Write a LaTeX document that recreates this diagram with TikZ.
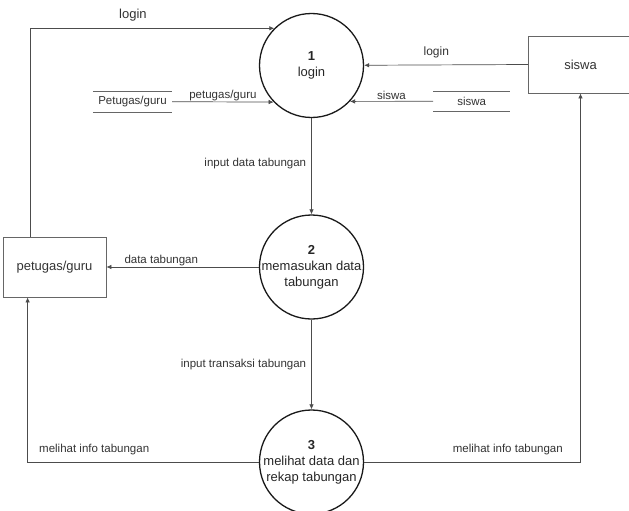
\documentclass[tikz,border=0pt]{standalone}
\usepackage{fontspec}
\setmainfont{Liberation Sans}
\usetikzlibrary{arrows.meta}

\begin{document}
\begin{tikzpicture}[x=1pt,y=-1pt,
  proc/.style={circle, draw=black!90, line width=1.3pt, minimum size=104pt, inner sep=0pt},
  proctext/.style={align=center, inner sep=0pt, text=black!85, font=\fontsize{13}{16}\selectfont},
  ent/.style={rectangle, draw=black!60, line width=0.8pt, minimum width=103pt, minimum height=60pt, inner sep=0pt, text=black!80, font=\fontsize{13}{15}\selectfont},
  store/.style={inner sep=0pt, minimum height=20pt, text=black!80, font=\fontsize{11.5}{13}\selectfont},
  flow/.style={draw=black!70, line width=0.7pt, -{Latex[length=5pt,width=4.5pt]}},
  lbl/.style={inner sep=1pt, text=black!80, font=\fontsize{11.5}{13}\selectfont}]
\useasboundingbox (0,0) rectangle (629,511);

\node[proc] (p1) at (311.5,65.5) {};
\node[proc] (p2) at (311.5,267) {};
\node[proc] (p3) at (311.5,462) {};
\node[proctext] (t1) at (p1) {\textbf{1}\\login};
\node[proctext] (t2) at (p2) {\textbf{2}\\memasukan data\\tabungan};
\node[proctext] (t3) at (p3) {\textbf{3}\\melihat data dan\\rekap tabungan};

\node[ent] (pg) at (54.5,267) {petugas/guru};
\node[ent, minimum width=104pt, minimum height=57pt] (sw) at (580.5,64.5) {siswa};

\node[store, minimum width=79pt] (dsp) at (132.5,101.7) {Petugas/guru};
\node[store, minimum width=77pt] (dss) at (471.7,101.3) {siswa};
\draw[draw=black!60, line width=0.7pt] (dsp.north west) -- (dsp.north east) (dsp.south west) -- (dsp.south east);
\draw[draw=black!60, line width=0.7pt] (dss.north west) -- (dss.north east) (dss.south west) -- (dss.south east);

\draw[flow] ([xshift=28pt]pg.north west) |- (p1.135.4)
  node[lbl, pos=0.71, above, yshift=6pt, font=\fontsize{13}{15}\selectfont] (l1) {login};
\draw[flow] (dsp.east) -- (p1.224.1)
  node[lbl, midway, above] (l2) {petugas/guru};
\draw[flow] (sw.west) -- (p1)
  node[lbl, pos=0.56, above, yshift=6pt, font=\fontsize{12}{14}\selectfont] (l3) {login};
\draw[flow] (dss.west) -- (p1.-43.5)
  node[lbl, pos=0.5, above] (l4) {siswa};

\draw[flow] (p1.south) -- (p2.north)
  node[lbl, pos=0.47, left, xshift=-4pt] (l5) {input data tabungan};
\draw[flow] (p2.west) -- (pg.east)
  node[lbl, pos=0.64, above] (l6) {data tabungan};
\draw[flow] (p2.south) -- (p3.north)
  node[lbl, midway, left, xshift=-4pt] (l7) {input transaksi tabungan};

\draw[flow] (p3.west) -| ([xshift=25pt]pg.south west)
  node[lbl, pos=0.356, above, yshift=6pt] (l8) {melihat info tabungan};
\draw[flow] (p3.east) -| (sw.south)
  node[lbl, pos=0.332, above, yshift=6pt] (l9) {melihat info tabungan};
\end{tikzpicture}
\end{document}
